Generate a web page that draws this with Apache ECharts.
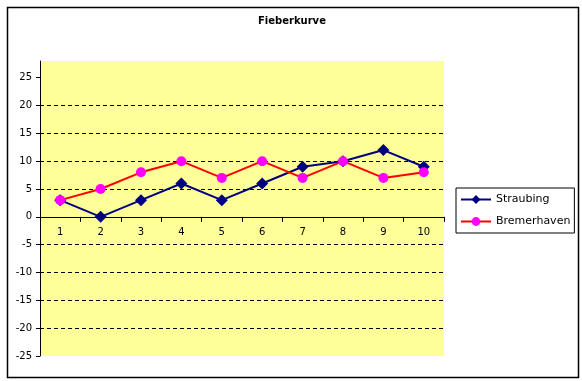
<!DOCTYPE html>
<html><head><meta charset="utf-8">
<script src="https://cdn.jsdelivr.net/npm/echarts@6/dist/echarts.min.js"></script>
<style>html,body{margin:0;padding:0;background:#fff}#c{width:582px;height:381px}</style>
</head><body><div id="c"></div>
<script>
const categories = ['1','2','3','4','5','6','7','8','9','10'];
const straubing = [3, 0, 3, 6, 3, 6, 9, 10, 12, 9];
const bremerhaven = [3, 5, 8, 10, 7, 10, 7, 10, 7, 8];
const yTicks = [-25, -20, -15, -10, -5, 0, 5, 10, 15, 20, 25];

const yMin = -25, yMax = 28;
const gridH = 295;
const zeroOffset = -gridH * (0 - yMin) / (yMax - yMin);

const chart = echarts.init(document.getElementById('c'), null, {renderer: 'canvas'});
const font = 'DejaVu Sans';
chart.setOption({
  animation: false,
  backgroundColor: '#fff',
  graphic: [{
    type: 'rect', left: 5, top: 5, shape: {width: 571, height: 370},
    style: {fill: 'none', stroke: '#000', lineWidth: 1.5}, z: 0
  }],
  title: {
    text: 'Fieberkurve', left: 258, top: 16,
    padding: 0,
    textStyle: {fontFamily: font, fontSize: 10, fontWeight: 'bold', color: '#000'}
  },
  legend: {
    orient: 'vertical', left: 456, top: 188,
    padding: [6, 4, 6, 4], itemGap: 11,
    borderColor: '#000', borderWidth: 1,
    itemWidth: 30, itemHeight: 11,
    textStyle: {fontFamily: font, fontSize: 11, color: '#000'},
    data: ['Straubing', 'Bremerhaven']
  },
  grid: {left: 40, top: 61, width: 404, height: gridH, show: true, backgroundColor: '#FFFF99', borderWidth: 0},
  xAxis: {
    type: 'category', data: categories, boundaryGap: true,
    position: 'bottom', offset: zeroOffset,
    axisLine: {onZero: false, lineStyle: {color: '#000', width: 1}},
    axisTick: {show: true, inside: false, length: 5, lineStyle: {color: '#000'}},
    axisLabel: {fontFamily: font, fontSize: 10, color: '#000', margin: 11},
    splitLine: {show: false}
  },
  yAxis: {
    type: 'value', min: yMin, max: yMax, interval: 5,
    axisLine: {show: true, lineStyle: {color: '#000', width: 1}},
    axisTick: {show: true, length: 4, customValues: yTicks, lineStyle: {color: '#000'}},
    axisLabel: {fontFamily: font, fontSize: 10, color: '#000', margin: 8, customValues: yTicks},
    splitLine: {show: true, showMinLine: false, showMaxLine: false, lineStyle: {color: '#000', type: [4, 3], width: 1}}
  },
  series: [{
    name: 'Straubing', type: 'line', data: straubing,
    symbol: 'diamond', symbolSize: 12,
    lineStyle: {color: '#000080', width: 2},
    itemStyle: {color: '#000080'}
  }, {
    name: 'Bremerhaven', type: 'line', data: bremerhaven,
    symbol: 'circle', symbolSize: 10,
    lineStyle: {color: '#FF0000', width: 2},
    itemStyle: {color: '#FF00FF'}
  }]
});
</script></body></html>
